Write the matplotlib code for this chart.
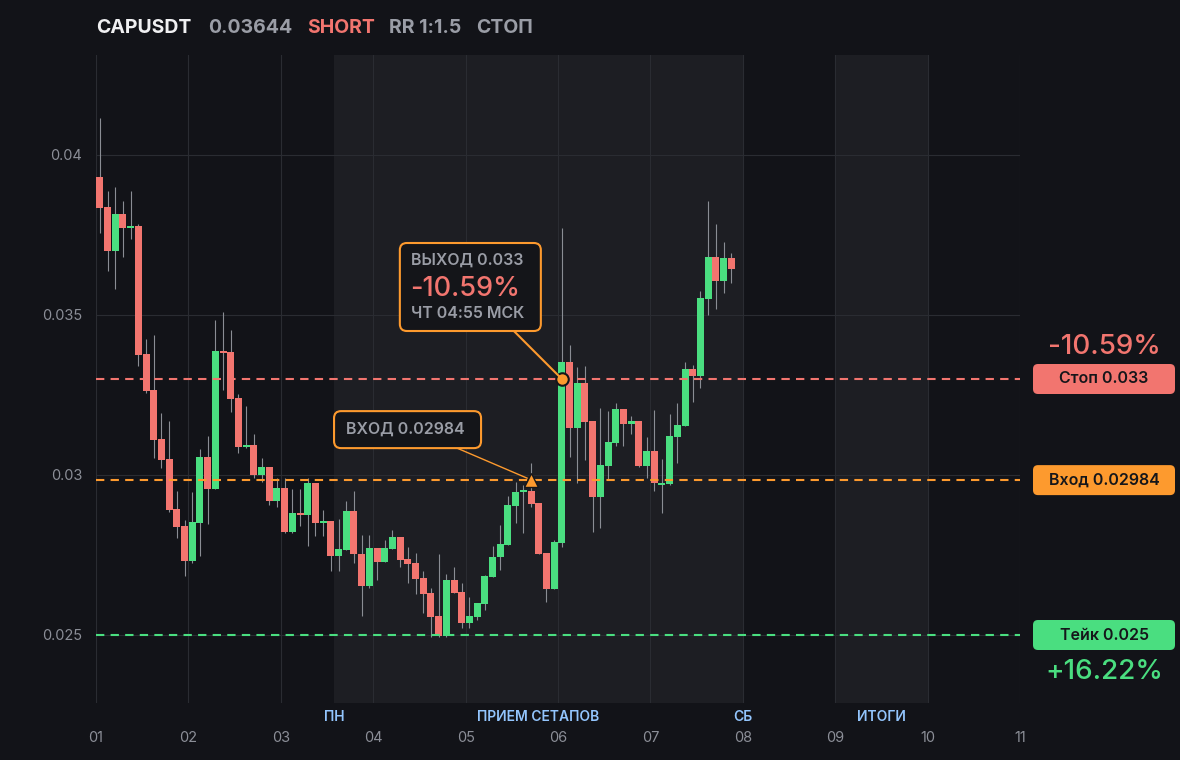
import matplotlib
matplotlib.use("Agg")
import matplotlib.pyplot as plt
from matplotlib.patches import FancyBboxPatch

plt.rcParams["font.family"] = ["Inter", "DejaVu Sans"]

# --- data -------------------------------------------------------------
SYMBOL = "CAPUSDT"
LAST_PRICE = "0.03644"
SIDE = "SHORT"
RR_TEXT = "RR 1:1.5"
STATUS = "СТОП"

OPEN = [0.03931, 0.03838, 0.03701, 0.03816, 0.03773, 0.03778, 0.03378, 0.03266, 0.03113, 0.03050,
        0.02894, 0.02841, 0.02732, 0.02851, 0.03056, 0.02957, 0.03388, 0.03384, 0.03241, 0.03089,
        0.03094, 0.03001, 0.03025, 0.02920, 0.02959, 0.02823, 0.02881, 0.02874, 0.02975, 0.02851,
        0.02856, 0.02748, 0.02767, 0.02888, 0.02754, 0.02654, 0.02771, 0.02729, 0.02769, 0.02805,
        0.02737, 0.02724, 0.02678, 0.02631, 0.02559, 0.02497, 0.02672, 0.02634, 0.02539, 0.02557,
        0.02598, 0.02682, 0.02743, 0.02781, 0.02904, 0.02946, 0.02951, 0.02913, 0.02756, 0.02645,
        0.02789, 0.03352, 0.03148, 0.03288, 0.03169, 0.02930, 0.03028, 0.03101, 0.03206, 0.03160,
        0.03169, 0.03028, 0.03075, 0.02970, 0.02972, 0.03120, 0.03154, 0.03331, 0.03310, 0.03551,
        0.03681, 0.03607, 0.03678]
HIGH = [0.04117, 0.03889, 0.03900, 0.03856, 0.03889, 0.03784, 0.03425, 0.03438, 0.03194, 0.03169,
        0.02950, 0.02859, 0.02947, 0.03081, 0.03122, 0.03484, 0.03509, 0.03453, 0.03253, 0.03217,
        0.03129, 0.03053, 0.03026, 0.02991, 0.02991, 0.02957, 0.02957, 0.02991, 0.02976, 0.02891,
        0.02857, 0.02863, 0.02919, 0.02950, 0.02813, 0.02813, 0.02772, 0.02797, 0.02828, 0.02806,
        0.02776, 0.02755, 0.02700, 0.02646, 0.02752, 0.02690, 0.02714, 0.02662, 0.02620, 0.02601,
        0.02686, 0.02778, 0.02844, 0.02934, 0.02979, 0.02969, 0.03039, 0.02913, 0.02757, 0.02797,
        0.03771, 0.03406, 0.03338, 0.03341, 0.03170, 0.03208, 0.03200, 0.03224, 0.03207, 0.03184,
        0.03170, 0.03119, 0.03203, 0.03051, 0.03191, 0.03224, 0.03353, 0.03344, 0.03575, 0.03856,
        0.03784, 0.03728, 0.03694]
LOW = [0.03755, 0.03639, 0.03582, 0.03682, 0.03739, 0.03342, 0.03257, 0.03054, 0.03022, 0.02885,
       0.02804, 0.02685, 0.02725, 0.02748, 0.02848, 0.02955, 0.03267, 0.03198, 0.03070, 0.03085,
       0.02992, 0.02978, 0.02906, 0.02901, 0.02818, 0.02820, 0.02841, 0.02779, 0.02810, 0.02810,
       0.02701, 0.02700, 0.02765, 0.02724, 0.02560, 0.02646, 0.02672, 0.02728, 0.02768, 0.02714,
       0.02662, 0.02628, 0.02568, 0.02495, 0.02493, 0.02495, 0.02630, 0.02521, 0.02521, 0.02547,
       0.02578, 0.02680, 0.02703, 0.02780, 0.02849, 0.02818, 0.02899, 0.02752, 0.02604, 0.02643,
       0.02776, 0.03057, 0.02974, 0.03047, 0.02823, 0.02833, 0.02987, 0.03091, 0.03091, 0.03128,
       0.03026, 0.02992, 0.02951, 0.02880, 0.02970, 0.03039, 0.03153, 0.03229, 0.03273, 0.03501,
       0.03520, 0.03570, 0.03601]
CLOSE = [0.03835, 0.03701, 0.03816, 0.03773, 0.03778, 0.03376, 0.03264, 0.03110, 0.03048, 0.02892,
         0.02839, 0.02732, 0.02853, 0.03056, 0.02957, 0.03388, 0.03382, 0.03239, 0.03089, 0.03094,
         0.03001, 0.03025, 0.02920, 0.02959, 0.02823, 0.02881, 0.02874, 0.02975, 0.02851, 0.02856,
         0.02748, 0.02768, 0.02888, 0.02754, 0.02654, 0.02771, 0.02729, 0.02771, 0.02805, 0.02734,
         0.02722, 0.02675, 0.02629, 0.02557, 0.02497, 0.02672, 0.02632, 0.02539, 0.02559, 0.02600,
         0.02684, 0.02745, 0.02784, 0.02906, 0.02947, 0.02951, 0.02910, 0.02754, 0.02645, 0.02791,
         0.03352, 0.03148, 0.03288, 0.03167, 0.02930, 0.03030, 0.03102, 0.03206, 0.03160, 0.03169,
         0.03028, 0.03075, 0.02974, 0.02976, 0.03122, 0.03156, 0.03331, 0.03310, 0.03553, 0.03681,
         0.03607, 0.03678, 0.03644]

CANDLES_PER_DAY = 12
DAY_TICKS = list(range(1, 12))
DAY_LABELS = ["01", "02", "03", "04", "05", "06", "07", "08", "09", "10", "11"]
PRICE_TICKS = [0.025, 0.03, 0.035, 0.04]
PRICE_LABELS = ["0.025", "0.03", "0.035", "0.04"]

STOP = 0.033
ENTRY = 0.02984
TAKE = 0.025
ENTRY_IDX = 56
EXIT_IDX = 60
EXIT_TIME = "ЧТ 04:55 МСК"

PHASES = [(3.576, 8.0), (9.0, 10.0)]
PHASE_LABELS = ["ПН", "ПРИЕМ СЕТАПОВ", "СБ", "ИТОГИ"]
PHASE_LABEL_X = [3.576, 5.79, 8.0, 9.5]

# --- style ------------------------------------------------------------
BG = "#121318"
SHADE = "#1d1e23"
GRID = "#2a2c32"
RED = "#f2756f"
GREEN = "#4ade80"
ORANGE = "#fd9a2e"
GRAY = "#9a9da6"
TICK = "#8b8e97"
WICK = "#8a8d94"
BLUE = "#93c5fd"
DARK = "#15161a"

fig = plt.figure(figsize=(11.8, 7.6), dpi=100, facecolor=BG)
ax = fig.add_axes([96 / 1180, 57 / 760, 924 / 1180, 648 / 760])
ax.set_facecolor(BG)
ax.set_xlim(1, 11)
ax.set_ylim(0.022875, 0.043125)

for start, end in PHASES:
    ax.axvspan(start, end, color=SHADE, zorder=0, lw=0)

ax.set_xticks(DAY_TICKS)
ax.set_xticklabels(DAY_LABELS)
ax.set_yticks(PRICE_TICKS)
ax.set_yticklabels(PRICE_LABELS)
ax.grid(True, color=GRID, lw=0.8, zorder=0.5)
ax.tick_params(axis="both", length=0, colors=TICK, labelsize=10.5)
ax.tick_params(axis="x", pad=20.5)
ax.tick_params(axis="y", pad=10)
for s in ax.spines.values():
    s.set_visible(False)

# candles
xs = [1 + (i + 0.5) / CANDLES_PER_DAY for i in range(len(OPEN))]
ax.vlines(xs, LOW, HIGH, color=WICK, lw=0.8, zorder=2)
bottoms = [min(o, c) for o, c in zip(OPEN, CLOSE)]
heights = [max(abs(c - o), 0.00006) for o, c in zip(OPEN, CLOSE)]
colors = [GREEN if c >= o else RED for o, c in zip(OPEN, CLOSE)]
ax.bar(xs, heights, bottom=bottoms, width=0.92 / CANDLES_PER_DAY, color=colors, lw=0, zorder=3)

# levels
dash = (0, (4, 3))
ax.axhline(STOP, color=RED, lw=1.5, ls=dash, zorder=4)
ax.axhline(ENTRY, color=ORANGE, lw=1.5, ls=dash, zorder=4)
ax.axhline(TAKE, color=GREEN, lw=1.5, ls=dash, zorder=4)

# entry / exit markers
ax.plot(xs[ENTRY_IDX], ENTRY, marker="^", ms=10, color=ORANGE, mec=DARK, mew=1, zorder=6)
ax.plot(xs[EXIT_IDX], STOP, marker="o", ms=9, color=ORANGE, mec=DARK, mew=1.5, zorder=6)

# phase labels under the chart
for lx, lab in zip(PHASE_LABEL_X, PHASE_LABELS):
    ax.text(lx, -14 / 648, lab, transform=ax.get_xaxis_transform(), ha="center", va="center",
            fontsize=10, color=BLUE, weight="semibold")

# --- overlay in pixel coords -------------------------------------------
ov = fig.add_axes([0, 0, 1, 1], facecolor="none", zorder=10)
ov.set_xlim(0, 1180)
ov.set_ylim(760, 0)
ov.axis("off")


def to_px(x, y):
    dx, dy = ax.transData.transform((x, y))
    return dx, 760 - dy


# header
header = [(96, SYMBOL, "#f0f0f2"), (208, LAST_PRICE, GRAY), (307, SIDE, RED),
          (389, RR_TEXT, GRAY), (476, STATUS, GRAY)]
for hx, txt, col in header:
    ov.text(hx, 28, txt, ha="left", va="center", fontsize=14, weight="bold", color=col)

# right side level tags
loss_pct = (ENTRY - STOP) / ENTRY * 100
gain_pct = (ENTRY - TAKE) / ENTRY * 100
tags = [(STOP, RED, f"Стоп {STOP:g}"), (ENTRY, ORANGE, f"Вход {ENTRY:g}"), (TAKE, GREEN, f"Тейк {TAKE:g}")]
for level, col, lab in tags:
    _, py = to_px(1, level)
    ov.add_patch(FancyBboxPatch((1033, py - 15), 142, 30, boxstyle="round,pad=0,rounding_size=5",
                                fc=col, ec="none"))
    ov.text(1104, py, lab, ha="center", va="center", fontsize=11.5, weight="semibold", color=DARK)

_, py_stop = to_px(1, STOP)
_, py_take = to_px(1, TAKE)
ov.text(1104, py_stop - 32, f"{loss_pct:.2f}%", ha="center", va="center", fontsize=20,
        weight="medium", color=RED)
ov.text(1104, py_take + 37, f"+{gain_pct:.2f}%", ha="center", va="center", fontsize=20,
        weight="medium", color=GREEN)

# exit callout
mx, my = to_px(xs[EXIT_IDX], STOP)
ov.plot([mx - 48, mx - 3], [my - 48, my - 3], color=ORANGE, lw=1.5, zorder=1)
ov.add_patch(FancyBboxPatch((mx - 162, my - 136), 141, 88, boxstyle="round,pad=0,rounding_size=7",
                            fc="#141519", ec=ORANGE, lw=1.5, zorder=2))
ov.text(mx - 151, my - 119, f"ВЫХОД {STOP:g}", ha="left", va="center", fontsize=11.5,
        weight="semibold", color=GRAY, zorder=3)
ov.text(mx - 152, my - 90, f"{loss_pct:.2f}%", ha="left", va="center", fontsize=19.5,
        weight="medium", color=RED, zorder=3)
ov.text(mx - 151, my - 65, EXIT_TIME, ha="left", va="center", fontsize=11.5,
        weight="semibold", color=GRAY, zorder=3)

# entry callout
ex, ey = to_px(xs[ENTRY_IDX], ENTRY)
ov.plot([ex - 74, ex - 4], [ey - 32, ey - 2], color=ORANGE, lw=1, zorder=1)
ov.add_patch(FancyBboxPatch((ex - 197, ey - 69), 147, 37, boxstyle="round,pad=0,rounding_size=7",
                            fc="#141519", ec=ORANGE, lw=1.5, zorder=2))
ov.text(ex - 185, ey - 50.5, f"ВХОД {ENTRY:g}", ha="left", va="center", fontsize=11.5,
        weight="semibold", color=GRAY, zorder=3)

fig.savefig("out.png", dpi=100, facecolor=BG)
